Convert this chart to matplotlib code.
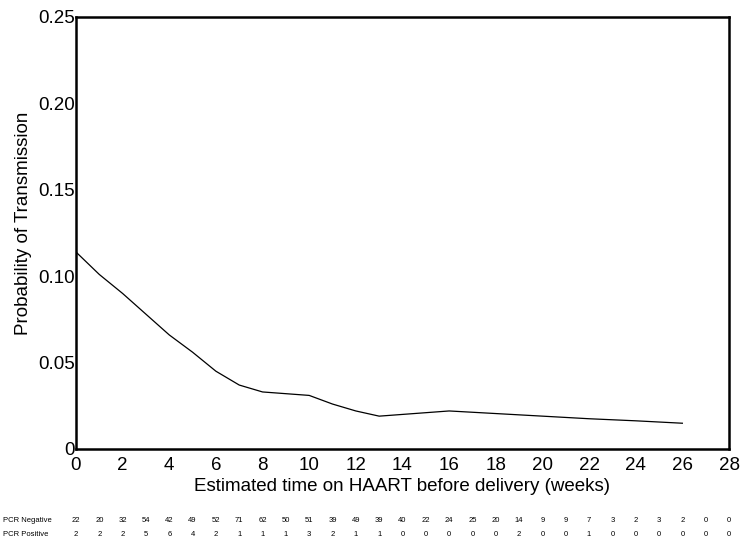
import matplotlib.pyplot as plt

plt.rcParams['font.family'] = ['Liberation Sans', 'DejaVu Sans']

# curve
weeks = [0, 1, 2, 3, 4, 5, 6, 7, 8, 9, 10, 11, 12, 13, 16, 20, 22, 24, 26]
prob = [0.114, 0.101, 0.090, 0.078, 0.066, 0.056, 0.045, 0.037, 0.033, 0.032,
        0.031, 0.026, 0.022, 0.019, 0.022, 0.019, 0.0175, 0.0163, 0.0149]

# numbers below the plot, one per week 0..28
table_weeks = list(range(29))
pcr_negative = [22, 20, 32, 54, 42, 49, 52, 71, 62, 50, 51, 39, 49, 39, 40,
                22, 24, 25, 20, 14, 9, 9, 7, 3, 2, 3, 2, 0, 0]
pcr_positive = [2, 2, 2, 5, 6, 4, 2, 1, 1, 1, 3, 2, 1, 1, 0,
                0, 0, 0, 0, 2, 0, 0, 1, 0, 0, 0, 0, 0, 0]

fig = plt.figure(figsize=(7.5, 5.48), dpi=100)
ax = fig.add_axes([0.1013, 0.1807, 0.8707, 0.7883])

ax.plot(weeks, prob, color='black', linewidth=0.9)

ax.set_xlim(0, 28)
ax.set_ylim(0, 0.25)
ax.set_xticks(range(0, 29, 2))
ax.set_yticks([0, 0.05, 0.10, 0.15, 0.20, 0.25])
ax.set_yticklabels(['0', '0.05', '0.10', '0.15', '0.20', '0.25'])
ax.tick_params(axis='both', length=0, labelsize=13.5)
ax.tick_params(axis='y', pad=1)
ax.tick_params(axis='x', pad=6)
for s in ax.spines.values():
    s.set_linewidth(1.8)

ax.set_xlabel('Estimated time on HAART before delivery (weeks)', fontsize=13.5)
ax.set_ylabel('Probability of Transmission', fontsize=13.5)
ax.xaxis.set_label_coords(0.5, -0.088)
ax.yaxis.set_label_coords(-0.081, 0.523)
ax.xaxis.label.set_va('center')
ax.yaxis.label.set_va('center')

# risk table
trans = ax.get_xaxis_transform()
for w, n, p in zip(table_weeks, pcr_negative, pcr_positive):
    ax.text(w, -0.1667, str(n), transform=trans, ha='center', va='center', fontsize=5.5)
    ax.text(w, -0.199, str(p), transform=trans, ha='center', va='center', fontsize=5.5)
fig.text(0.004, 1 - 521 / 548, 'PCR Negative', ha='left', va='center', fontsize=5.5)
fig.text(0.004, 1 - 535 / 548, 'PCR Positive', ha='left', va='center', fontsize=5.5)

fig.savefig('out.png', dpi=100)
